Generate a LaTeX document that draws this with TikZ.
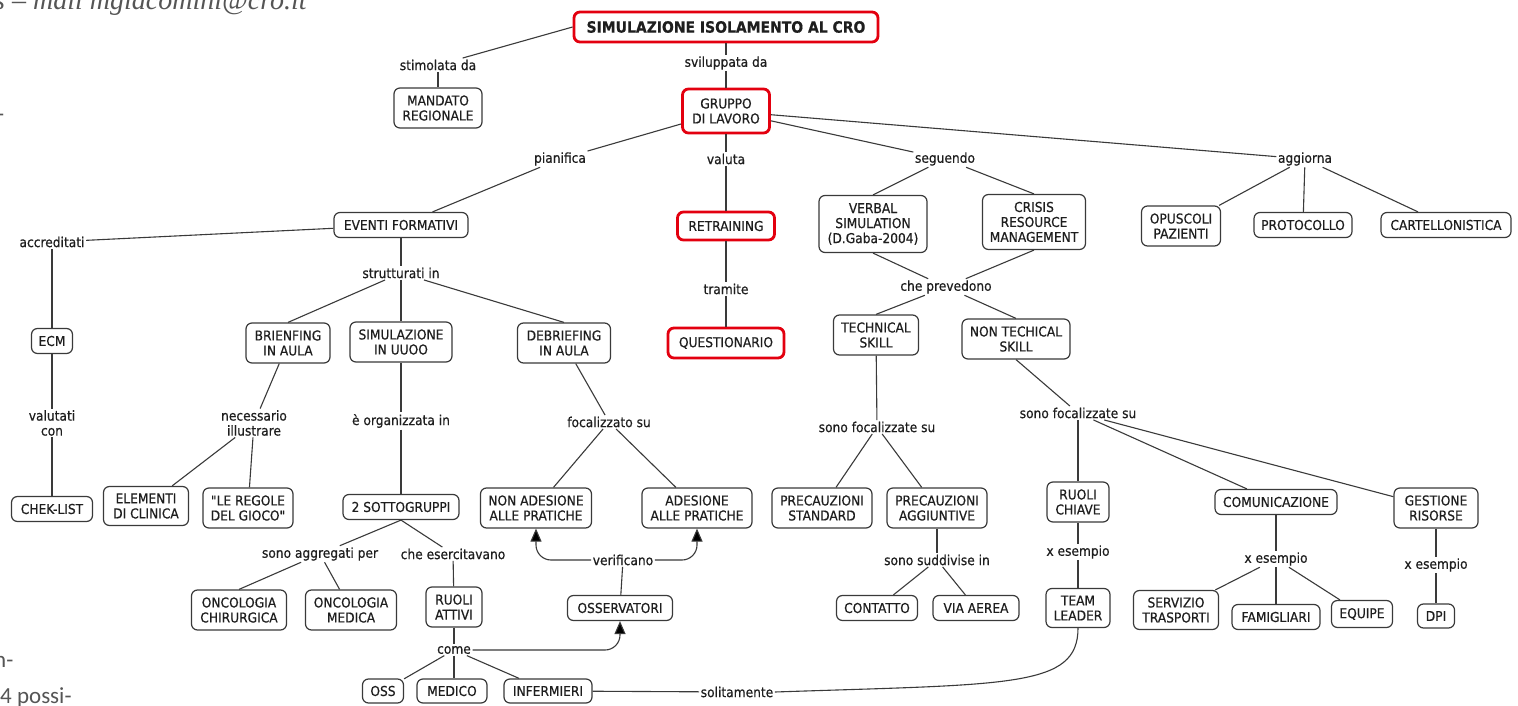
\documentclass[tikz,border=0pt]{standalone}
\usepackage{fontspec}
\newfontfamily\dv{DejaVu Sans}[FakeStretch=0.9, FakeBold=0.5]
\newfontfamily\serfrag{Liberation Serif}
\newfontfamily\carlfrag{Carlito}
\usetikzlibrary{arrows.meta}
\definecolor{txt}{HTML}{1E1E1E}
\definecolor{ln}{HTML}{3A3A3A}
\definecolor{hot}{HTML}{E3000F}
\definecolor{frag}{HTML}{555555}
\begin{document}
\begin{tikzpicture}[x=1pt,y=-1pt,
  box/.style={draw=ln, line width=1.2pt, rounded corners=6pt, fill=white, align=center,
    inner sep=0pt, font=\dv\fontsize{13.6}{15}\selectfont, text=txt},
  hotbox/.style={box, draw=hot, line width=2.8pt},
  lab/.style={inner sep=1.5pt, align=center, font=\dv\fontsize{13.6}{15}\selectfont, text=txt},
  con/.style={draw=ln, line width=1.1pt},
  arr/.style={con, -{Triangle[length=13pt,width=11pt,fill=black]}, rounded corners=15pt},
  fragtxt/.style={inner sep=0pt, text=frag}]
\useasboundingbox (0,0) rectangle (1518,706);
\clip (0,0) rectangle (1518,706);
\fill[white] (0,0) rectangle (1518,706);

% page fragments at the edges
\node[fragtxt, anchor=base west, font=\serfrag\itshape\fontsize{28}{30}\selectfont] (f1) at (-6,10) {s – mail mgiacomini@cro.it};
\node[fragtxt, anchor=base west, font=\carlfrag\fontsize{23}{26}\selectfont] (f2) at (-3,122) {-};
\node[fragtxt, anchor=base west, font=\carlfrag\fontsize{23}{26}\selectfont] (f3) at (-6,667) {n-};
\node[fragtxt, anchor=base west, font=\carlfrag\fontsize{23}{26}\selectfont] (f4) at (0,703) {4 possi-};

% concepts
\node[hotbox, minimum width=304pt, minimum height=30pt, font=\dv\fontsize{15.5}{17}\selectfont\bfseries] (title) at (726,27) {SIMULAZIONE ISOLAMENTO AL CRO};
\node[box, minimum width=88pt, minimum height=40pt] (mandato) at (438,108) {MANDATO\\REGIONALE};
\node[hotbox, minimum width=87pt, minimum height=44pt] (gruppo) at (726,111) {GRUPPO\\DI LAVORO};
\node[box, minimum width=134pt, minimum height=25pt] (eventi) at (401,225) {EVENTI FORMATIVI};
\node[hotbox, minimum width=97pt, minimum height=28pt] (retr) at (726,226) {RETRAINING};
\node[box, minimum width=108pt, minimum height=57pt] (verbal) at (873,224) {VERBAL\\SIMULATION\\(D.Gaba-2004)};
\node[box, minimum width=103pt, minimum height=55pt] (crisis) at (1034,222) {CRISIS\\RESOURCE\\MANAGEMENT};
\node[box, minimum width=79pt, minimum height=40pt] (opus) at (1181,226) {OPUSCOLI\\PAZIENTI};
\node[box, minimum width=98pt, minimum height=25pt] (prot) at (1303,225) {PROTOCOLLO};
\node[box, minimum width=130pt, minimum height=25pt] (cart) at (1446,225) {CARTELLONISTICA};
\node[box, minimum width=41pt, minimum height=25pt] (ecm) at (52,341) {ECM};
\node[box, minimum width=84pt, minimum height=40pt] (brien) at (288,343) {BRIENFING\\IN AULA};
\node[box, minimum width=102pt, minimum height=40pt] (simu) at (401,342) {SIMULAZIONE\\IN UUOO};
\node[box, minimum width=93pt, minimum height=40pt] (debr) at (564,343) {DEBRIEFING\\IN AULA};
\node[hotbox, minimum width=116pt, minimum height=30pt] (quest) at (726,343) {QUESTIONARIO};
\node[box, minimum width=85pt, minimum height=40pt] (tech) at (876,335) {TECHNICAL\\SKILL};
\node[box, minimum width=108pt, minimum height=40pt] (nontech) at (1016,339) {NON TECHICAL\\SKILL};
\node[box, minimum width=81pt, minimum height=25pt] (chek) at (52,509) {CHEK-LIST};
\node[box, minimum width=85pt, minimum height=39pt] (elem) at (146,506) {ELEMENTI\\DI CLINICA};
\node[box, minimum width=90pt, minimum height=40pt] (regole) at (248,508) {"LE REGOLE\\DEL GIOCO"};
\node[box, minimum width=116pt, minimum height=25pt] (sott) at (401,507) {2 SOTTOGRUPPI};
\node[box, minimum width=111pt, minimum height=40pt] (nonad) at (536,508) {NON ADESIONE\\ALLE PRATICHE};
\node[box, minimum width=110pt, minimum height=40pt] (ades) at (697,508) {ADESIONE\\ALLE PRATICHE};
\node[box, minimum width=100pt, minimum height=40pt] (pstd) at (822,508) {PRECAUZIONI\\STANDARD};
\node[box, minimum width=100pt, minimum height=40pt] (pagg) at (937,508) {PRECAUZIONI\\AGGIUNTIVE};
\node[box, minimum width=62pt, minimum height=40pt] (rchiave) at (1078,502) {RUOLI\\CHIAVE};
\node[box, minimum width=122pt, minimum height=25pt] (comun) at (1276,502) {COMUNICAZIONE};
\node[box, minimum width=84pt, minimum height=40pt] (gest) at (1436,508) {GESTIONE\\RISORSE};
\node[box, minimum width=95pt, minimum height=40pt] (onch) at (239,610) {ONCOLOGIA\\CHIRURGICA};
\node[box, minimum width=91pt, minimum height=40pt] (onme) at (351,610) {ONCOLOGIA\\MEDICA};
\node[box, minimum width=56pt, minimum height=40pt] (rattivi) at (454,607) {RUOLI\\ATTIVI};
\node[box, minimum width=105pt, minimum height=25pt] (osserv) at (620,608) {OSSERVATORI};
\node[box, minimum width=81pt, minimum height=25pt] (contatto) at (877,608) {CONTATTO};
\node[box, minimum width=86pt, minimum height=25pt] (viaaerea) at (976,608) {VIA AEREA};
\node[box, minimum width=64pt, minimum height=39pt] (team) at (1078,608) {TEAM\\LEADER};
\node[box, minimum width=85pt, minimum height=39pt] (serv) at (1176,610) {SERVIZIO\\TRASPORTI};
\node[box, minimum width=88pt, minimum height=25pt] (famig) at (1276,617) {FAMIGLIARI};
\node[box, minimum width=61pt, minimum height=27pt] (equipe) at (1362,614) {EQUIPE};
\node[box, minimum width=37pt, minimum height=24pt] (dpi) at (1436,616) {DPI};
\node[box, minimum width=41pt, minimum height=24pt] (oss) at (383,691) {OSS};
\node[box, minimum width=70pt, minimum height=24pt] (medico) at (452,691) {MEDICO};
\node[box, minimum width=88pt, minimum height=24pt] (inferm) at (548,691) {INFERMIERI};

% linking phrases
\node[lab] (stim) at (438,65) {stimolata da};
\node[lab] (svil) at (726,63) {sviluppata da};
\node[lab] (pian) at (560,159) {pianifica};
\node[lab] (valuta) at (726,159) {valuta};
\node[lab] (seg) at (945,159) {seguendo};
\node[lab] (aggiorna) at (1305,159) {aggiorna};
\node[lab] (accr) at (52,242) {accreditati};
\node[lab] (strut) at (401,273) {strutturati in};
\node[lab] (tram) at (726,289) {tramite};
\node[lab] (cheprev) at (946,287) {che prevedono};
\node[lab] (valcon) at (52,423) {valutati\\con};
\node[lab] (necil) at (254,423) {necessario\\illustrare};
\node[lab] (organ) at (401,421) {è organizzata in};
\node[lab] (focal) at (609,422) {focalizzato su};
\node[lab] (focL) at (877,427) {sono focalizzate su};
\node[lab] (focR) at (1078,413) {sono focalizzate su};
\node[lab] (aggr) at (320,554) {sono aggregati per};
\node[lab] (eserc) at (453,554) {che esercitavano};
\node[lab] (verif) at (623,560) {verificano};
\node[lab] (sudd) at (937,560) {sono suddivise in};
\node[lab] (xes1) at (1078,552) {x esempio};
\node[lab] (xes2) at (1276,559) {x esempio};
\node[lab] (xes3) at (1436,565) {x esempio};
\node[lab] (come) at (454,650) {come};
\node[lab] (solit) at (737,692) {solitamente};

% connectors
\begin{scope}[con]
\draw (title.west) -- (stim);
\draw (stim) -- (mandato);
\draw (title) -- (svil);
\draw (svil) -- (gruppo);
\draw (gruppo) -- (pian);
\draw (pian) -- (eventi);
\draw (gruppo) -- (valuta);
\draw (valuta) -- (retr);
\draw (gruppo) -- (seg);
\draw (gruppo) -- (aggiorna);
\draw (seg) -- (verbal.north);
\draw (seg) -- (crisis.north);
\draw (verbal.south) -- (cheprev);
\draw (crisis.south) -- (cheprev);
\draw (cheprev) -- (tech.north);
\draw (cheprev) -- (nontech.north);
\draw (aggiorna) -- (opus);
\draw (aggiorna) -- (prot);
\draw (aggiorna) -- (cart);
\draw (retr) -- (tram);
\draw (tram) -- (quest);
\draw (eventi) -- (accr);
\draw (accr) -- (ecm);
\draw (ecm) -- (valcon);
\draw (valcon) -- (chek);
\draw (eventi) -- (strut);
\draw (strut) -- (brien.north);
\draw (strut) -- (simu);
\draw (strut) -- (debr.north);
\draw (brien) -- (necil);
\draw (necil) -- (elem);
\draw (necil) -- (regole);
\draw (simu) -- (organ);
\draw (organ) -- (sott);
\draw (debr) -- (focal);
\draw (focal) -- (nonad);
\draw (focal) -- (ades);
\draw (sott.south) -- (aggr);
\draw (sott.south) -- (eserc);
\draw (aggr) -- (onch.north);
\draw (aggr) -- (onme);
\draw (eserc) -- (rattivi);
\draw (rattivi) -- (come);
\draw (come) -- (oss);
\draw (come.south) -- (come.south |- medico.north);
\draw (come) -- (inferm);
\draw (osserv) -- (verif);
\draw (tech) -- (focL);
\draw (focL) -- (pstd);
\draw (focL) -- (pagg);
\draw (pagg) -- (sudd);
\draw (sudd) -- (contatto);
\draw (sudd) -- (viaaerea);
\draw (nontech.south) -- (focR);
\draw (focR) -- (rchiave);
\draw (focR) -- (comun);
\draw (focR) -- (gest);
\draw (rchiave) -- (xes1);
\draw (xes1) -- (team);
\draw (comun) -- (xes2);
\draw (xes2) -- (serv);
\draw (xes2) -- (famig);
\draw (xes2) -- (equipe);
\draw (gest) -- (xes3);
\draw (xes3) -- (dpi);
\draw (inferm) -- (solit);
\draw (team.south) .. controls (1078,688) and (1010,684) .. (solit.east);
\end{scope}
\draw[arr] (verif.west) -| (nonad.south);
\draw[arr] (verif.east) -| (ades.south);
\draw[arr] (come.east) -| (osserv.south);
\end{tikzpicture}
\end{document}
